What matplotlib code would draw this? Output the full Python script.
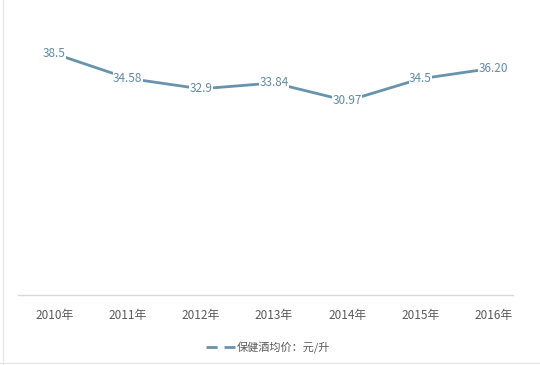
import matplotlib
matplotlib.use("Agg")
import matplotlib.pyplot as plt
from matplotlib.lines import Line2D

plt.rcParams['font.family'] = ['Noto Sans CJK SC', 'DejaVu Sans']

years = ["2010年", "2011年", "2012年", "2013年", "2014年", "2015年", "2016年"]
prices = [38.5, 34.58, 32.9, 33.84, 30.97, 34.5, 36.20]
price_labels = ["38.5", "34.58", "32.9", "33.84", "30.97", "34.5", "36.20"]
series_name = "保健酒均价：元/升"

line_color = "#6893ad"
W, H = 540, 365
fig = plt.figure(figsize=(W / 100, H / 100), dpi=100)
ax = fig.add_axes([18 / W, 1 - 295 / H, (530 - 18) / W, (295 - 13) / H])

x = list(range(len(years)))
ax.plot(x, prices, color=line_color, lw=2, zorder=2)
for xi, v, lab in zip(x, prices, price_labels):
    ax.text(xi, v, lab, ha="center", va="center", fontsize=8.5, color="#5f8ba6",
            zorder=3, bbox=dict(boxstyle="square,pad=0.02", fc="white", ec="none"))

ax.set_xlim(-0.5, 6.5)
ax.set_ylim(0, 45)
ax.set_yticks([])
ax.set_xticks(x)
ax.set_xticklabels(years, fontsize=8.5, color="#595959")
ax.tick_params(axis="x", length=0, pad=10)
for s in ["top", "right", "left", "bottom"]:
    ax.spines[s].set_visible(False)
# baseline
ax.plot([0, 0.967], [0, 0], transform=ax.transAxes, color="#d9d9d9", lw=1, clip_on=False)

handle = Line2D([], [], color=line_color, lw=2, dashes=(4, 2.5))
fig.legend([handle], [series_name], loc="center", bbox_to_anchor=(268 / W, 1 - 347 / H),
           frameon=False, fontsize=8, labelcolor="#595959", handlelength=2.6,
           handletextpad=0.2)

# outer border lines (left and bottom)
fig.add_artist(Line2D([2.5 / W, 2.5 / W], [0, 1], color="#e6e6e6", lw=1))
fig.add_artist(Line2D([0, 1], [2.5 / H, 2.5 / H], color="#e6e6e6", lw=1))

fig.savefig("out.png", dpi=100, facecolor="white")
